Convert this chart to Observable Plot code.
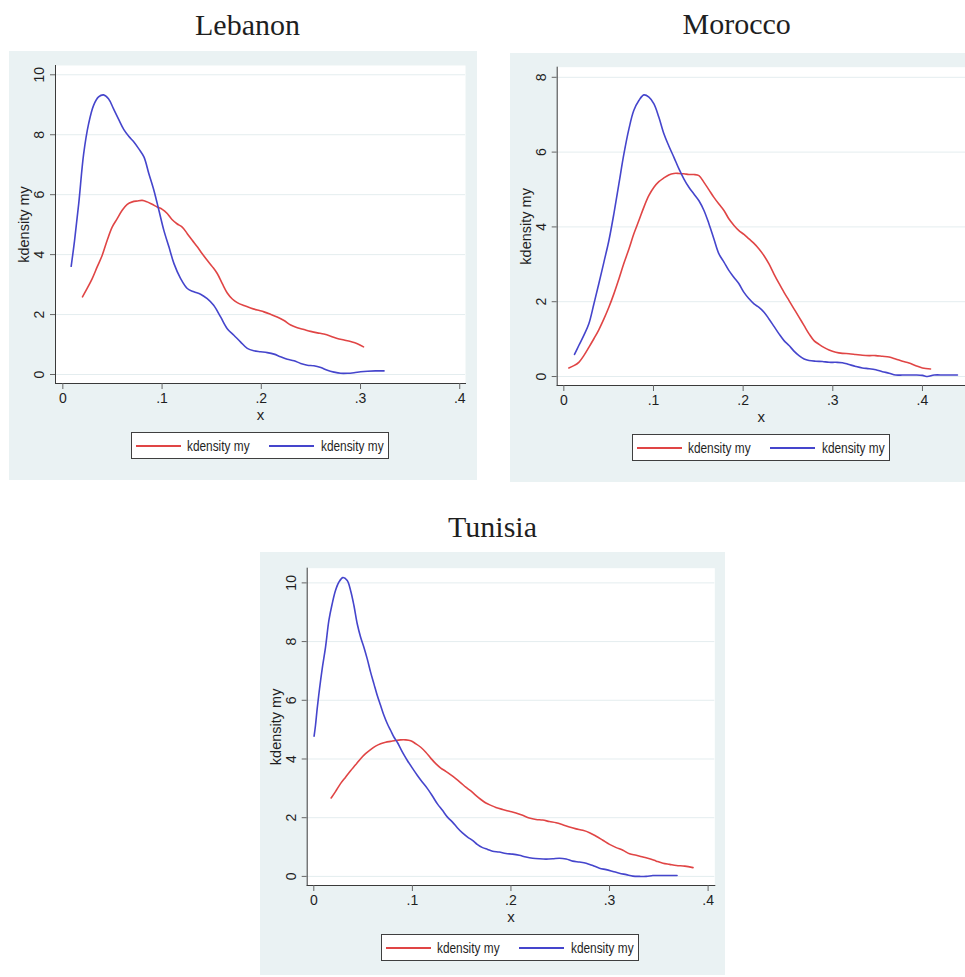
<!DOCTYPE html>
<html>
<head>
<meta charset="utf-8">
<script src="https://cdn.jsdelivr.net/npm/d3@7"></script>
<script src="https://cdn.jsdelivr.net/npm/@observablehq/plot@0.6"></script>
<style>
  body { margin: 0; background: #ffffff; }
  #root { position: relative; width: 965px; height: 977px; overflow: hidden; background: #ffffff; }
  .title { position: absolute; font-family: "Liberation Serif", "Times New Roman", serif; font-size: 30px; line-height: 30px; color: #1f1f1f; transform: translateX(-50%); white-space: nowrap; }
  .panel { position: absolute; background: #eaf2f3; }
  .panel svg { position: absolute; left: 0; top: 0; overflow: visible; }
  .legend { position: absolute; background: #ffffff; border: 1px solid #3f3f3f; box-sizing: border-box; width: 258px; height: 27px;
            font-family: "Liberation Sans", Arial, sans-serif; font-size: 15px; color: #1f1f1f; }
  .legend .sw { position: absolute; top: 12px; height: 1.6px; width: 45px; }
  .legend .lb { position: absolute; top: 3px; line-height: 19px; white-space: nowrap; transform: scaleX(0.79); transform-origin: 0 50%; }
</style>
</head>
<body>
<div id="root"></div>
<script>
// ---------------- data ----------------
const countries = ["Lebanon", "Morocco", "Tunisia"];
const seriesLabels = ["kdensity my", "kdensity my"];
const xTicks = [0, 0.1, 0.2, 0.3, 0.4];
const xTickLabels = ["0", ".1", ".2", ".3", ".4"];
const yTicksLebanon = [0, 2, 4, 6, 8, 10];
const yTicksMorocco = [0, 2, 4, 6, 8];
const yTicksTunisia = [0, 2, 4, 6, 8, 10];

const lebanonRed = [
  [0.0198,2.59],[0.0245,2.87],[0.0296,3.2],[0.0346,3.59],[0.0397,3.98],[0.0447,4.48],[0.0497,4.92],
  [0.0548,5.2],[0.0598,5.48],[0.0649,5.68],[0.07,5.76],[0.075,5.79],[0.08,5.81],[0.085,5.76],
  [0.09,5.68],[0.0951,5.59],[0.1002,5.51],[0.1052,5.37],[0.11,5.17],[0.115,5.03],[0.1203,4.92],
  [0.1254,4.7],[0.1304,4.48],[0.1355,4.26],[0.1405,4.03],[0.1455,3.81],[0.1506,3.6],[0.1556,3.37],
  [0.1607,3.03],[0.1657,2.72],[0.1708,2.52],[0.1758,2.4],[0.1825,2.3],[0.1892,2.22],[0.196,2.15],
  [0.2027,2.09],[0.2094,2.01],[0.216,1.92],[0.2229,1.8],[0.2296,1.65],[0.2363,1.56],[0.243,1.5],
  [0.2497,1.44],[0.2565,1.39],[0.263,1.35],[0.27,1.28],[0.2766,1.2],[0.2834,1.15],[0.29,1.1],
  [0.2968,1.03],[0.303,0.92]
];
const lebanonBlue = [
  [0.0084,3.61],[0.0118,4.47],[0.016,5.7],[0.021,7.37],[0.026,8.37],[0.031,8.98],[0.036,9.26],
  [0.041,9.33],[0.046,9.2],[0.051,8.87],[0.056,8.53],[0.0615,8.17],[0.0666,7.94],[0.0716,7.76],
  [0.0766,7.53],[0.0817,7.26],[0.0867,6.7],[0.0918,6.14],[0.0968,5.48],[0.1018,4.81],[0.1069,4.26],
  [0.112,3.7],[0.1187,3.2],[0.1254,2.87],[0.132,2.76],[0.1388,2.68],[0.1455,2.53],[0.152,2.31],
  [0.159,1.92],[0.1657,1.53],[0.1724,1.31],[0.179,1.09],[0.1859,0.87],[0.1926,0.79],[0.1993,0.76],
  [0.206,0.73],[0.2128,0.68],[0.2195,0.59],[0.2262,0.51],[0.233,0.46],[0.2397,0.37],[0.2464,0.31],
  [0.253,0.29],[0.26,0.23],[0.2666,0.14],[0.2733,0.08],[0.28,0.04],[0.2867,0.04],[0.2934,0.06],
  [0.30,0.09],[0.307,0.11],[0.315,0.12],[0.3237,0.12]
];
const moroccoRed = [
  [0.0056,0.23],[0.0112,0.29],[0.0167,0.38],[0.0223,0.56],[0.0279,0.78],[0.0335,1.01],[0.039,1.25],
  [0.0447,1.54],[0.0502,1.85],[0.0558,2.21],[0.0614,2.61],[0.067,3.03],[0.0726,3.41],[0.078,3.81],
  [0.0837,4.17],[0.0893,4.53],[0.0949,4.84],[0.1005,5.06],[0.106,5.21],[0.1116,5.31],[0.117,5.39],
  [0.1228,5.43],[0.1284,5.43],[0.134,5.42],[0.1395,5.4],[0.1451,5.4],[0.1507,5.37],[0.1563,5.19],
  [0.1619,4.99],[0.1674,4.79],[0.173,4.61],[0.1786,4.44],[0.1842,4.21],[0.1898,4.04],[0.1953,3.9],
  [0.2009,3.8],[0.2065,3.68],[0.2121,3.56],[0.2177,3.41],[0.2233,3.23],[0.2288,3.01],[0.2344,2.74],
  [0.24,2.49],[0.2456,2.25],[0.2512,2.03],[0.2567,1.81],[0.2623,1.59],[0.268,1.36],[0.2735,1.14],
  [0.279,0.96],[0.2847,0.86],[0.29,0.78],[0.2958,0.71],[0.3033,0.65],[0.3107,0.62],[0.3181,0.61],
  [0.3256,0.59],[0.333,0.57],[0.3405,0.56],[0.348,0.56],[0.3553,0.54],[0.3628,0.52],[0.37,0.47],
  [0.3777,0.41],[0.385,0.36],[0.3926,0.29],[0.4,0.23],[0.409,0.2]
];
const moroccoBlue = [
  [0.0119,0.59],[0.0167,0.83],[0.0223,1.1],[0.0279,1.41],[0.0335,1.94],[0.039,2.48],[0.0447,3.06],
  [0.0502,3.63],[0.0558,4.35],[0.0614,5.15],[0.067,5.95],[0.0726,6.62],[0.078,7.11],[0.0837,7.38],
  [0.0893,7.53],[0.0949,7.47],[0.1005,7.29],[0.106,6.93],[0.1116,6.49],[0.117,6.17],[0.1228,5.86],
  [0.1284,5.55],[0.134,5.28],[0.1395,5.06],[0.1451,4.88],[0.1507,4.7],[0.1563,4.44],[0.1619,4.08],
  [0.1674,3.68],[0.173,3.28],[0.1786,3.06],[0.1842,2.83],[0.1898,2.65],[0.1953,2.48],[0.2009,2.25],
  [0.2065,2.08],[0.2121,1.94],[0.2177,1.85],[0.2233,1.72],[0.2288,1.54],[0.2344,1.34],[0.24,1.14],
  [0.2456,0.96],[0.2512,0.83],[0.2567,0.68],[0.2623,0.56],[0.268,0.47],[0.2735,0.43],[0.281,0.41],
  [0.2884,0.4],[0.2958,0.38],[0.3033,0.38],[0.3107,0.37],[0.3181,0.32],[0.3256,0.27],[0.333,0.23],
  [0.3405,0.21],[0.348,0.18],[0.3553,0.13],[0.3628,0.09],[0.37,0.04],[0.3777,0.04],[0.385,0.04],
  [0.3926,0.04],[0.4,0.03],[0.4056,0.0],[0.413,0.04],[0.424,0.04],[0.439,0.04]
];
const tunisiaRed = [
  [0.0176,2.67],[0.022,2.89],[0.0271,3.16],[0.0322,3.38],[0.0373,3.6],[0.0424,3.8],[0.0475,4.01],
  [0.0525,4.18],[0.0576,4.32],[0.0627,4.44],[0.0678,4.52],[0.0729,4.57],[0.078,4.6],[0.083,4.63],
  [0.0881,4.65],[0.0932,4.65],[0.0983,4.62],[0.1034,4.52],[0.1085,4.4],[0.1136,4.23],[0.1186,4.03],
  [0.1237,3.84],[0.1288,3.69],[0.1339,3.58],[0.139,3.46],[0.144,3.33],[0.1491,3.19],[0.1542,3.04],
  [0.1593,2.91],[0.1644,2.76],[0.1695,2.62],[0.1746,2.5],[0.1797,2.42],[0.1847,2.35],[0.1915,2.28],
  [0.1983,2.22],[0.2051,2.16],[0.2119,2.08],[0.2186,1.99],[0.2254,1.94],[0.2322,1.92],[0.239,1.87],
  [0.2458,1.83],[0.2525,1.76],[0.2593,1.68],[0.2661,1.62],[0.2729,1.57],[0.2797,1.49],[0.2864,1.37],
  [0.2932,1.23],[0.3,1.09],[0.3068,0.98],[0.3136,0.89],[0.3203,0.77],[0.3271,0.72],[0.3339,0.66],
  [0.3407,0.6],[0.3475,0.52],[0.3542,0.45],[0.361,0.41],[0.3678,0.37],[0.3763,0.35],[0.3847,0.3]
];
const tunisiaBlue = [
  [0.0003,4.78],[0.0017,5.14],[0.0034,5.71],[0.0058,6.39],[0.0085,7.07],[0.0119,7.81],[0.0153,8.72],
  [0.0186,9.28],[0.022,9.74],[0.0254,10.02],[0.0295,10.18],[0.0339,10.08],[0.0373,9.74],[0.0407,9.23],
  [0.0441,8.6],[0.0475,8.15],[0.0508,7.81],[0.0542,7.41],[0.0576,6.96],[0.061,6.56],[0.0644,6.16],
  [0.0678,5.82],[0.0712,5.48],[0.0746,5.2],[0.078,4.97],[0.0814,4.74],[0.0847,4.57],[0.0881,4.35],
  [0.0915,4.14],[0.0949,3.95],[0.1,3.69],[0.1051,3.44],[0.1102,3.21],[0.1153,2.99],[0.1203,2.74],
  [0.1254,2.47],[0.1305,2.25],[0.1356,2.02],[0.1407,1.85],[0.1458,1.65],[0.1508,1.48],[0.156,1.34],
  [0.161,1.23],[0.1661,1.08],[0.1712,0.98],[0.1763,0.92],[0.1814,0.86],[0.1881,0.83],[0.1949,0.78],
  [0.2017,0.76],[0.2085,0.72],[0.2153,0.66],[0.222,0.62],[0.2288,0.6],[0.2356,0.59],[0.2424,0.6],
  [0.2492,0.62],[0.256,0.59],[0.2627,0.52],[0.2695,0.49],[0.2763,0.45],[0.283,0.37],[0.2898,0.28],
  [0.2966,0.23],[0.3034,0.17],[0.31,0.11],[0.317,0.06],[0.3237,0.01],[0.3305,0.0],[0.3373,0.0],
  [0.344,0.03],[0.3508,0.03],[0.3593,0.03],[0.3685,0.03]
];

// ---------------- styles / layout ----------------
const RED = "#e04545";
const BLUE = "#4545cc";
const GRID = "#e4edef";
const AXIS = "#3a3a3a";
const TEXT = "#1f1f1f";
const SANS = '"Liberation Sans", Arial, sans-serif';

const layouts = [
  { title: {cx: 247.5, top: 10}, box: {left: 9, top: 51, w: 468, h: 429},
    margin: {l: 46, r: 12, t: 14, b: 97}, xDomain: [-0.0074, 0.4058], yDomain: [-0.3, 10.31],
    legend: {left: 122, top: 381} },
  { title: {cx: 736.7, top: 9}, box: {left: 510, top: 53, w: 455, h: 429},
    margin: {l: 46.7, r: 0, t: 13.7, b: 97}, xDomain: [-0.0074, 0.448], yDomain: [-0.24, 8.27],
    legend: {left: 121.7, top: 381} },
  { title: {cx: 492.5, top: 512}, box: {left: 260, top: 552, w: 465, h: 423},
    margin: {l: 46.7, r: 10.7, t: 15.7, b: 90}, xDomain: [-0.0067, 0.4068], yDomain: [-0.31, 10.5],
    legend: {left: 121, top: 382} }
];

const panelData = [
  {red: lebanonRed, blue: lebanonBlue, yTicks: yTicksLebanon},
  {red: moroccoRed, blue: moroccoBlue, yTicks: yTicksMorocco},
  {red: tunisiaRed, blue: tunisiaBlue, yTicks: yTicksTunisia}
];

const root = document.getElementById("root");
const xFmt = d => xTickLabels[xTicks.findIndex(t => Math.abs(t - d) < 1e-9)];

countries.forEach((name, i) => {
  const L = layouts[i];
  const D = panelData[i];

  const title = document.createElement("div");
  title.className = "title";
  title.style.left = L.title.cx + "px";
  title.style.top = L.title.top + "px";
  title.textContent = name;
  root.appendChild(title);

  const panel = document.createElement("div");
  panel.className = "panel";
  panel.style.left = L.box.left + "px";
  panel.style.top = L.box.top + "px";
  panel.style.width = L.box.w + "px";
  panel.style.height = L.box.h + "px";
  root.appendChild(panel);

  const red = D.red.map(([x, y]) => ({x, y}));
  const blue = D.blue.map(([x, y]) => ({x, y}));

  const chart = Plot.plot({
    width: L.box.w,
    height: L.box.h,
    marginLeft: L.margin.l,
    marginRight: L.margin.r,
    marginTop: L.margin.t,
    marginBottom: L.margin.b,
    style: {background: "transparent", color: TEXT, fontFamily: SANS, overflow: "visible"},
    x: {domain: L.xDomain},
    y: {domain: L.yDomain},
    marks: [
      Plot.frame({fill: "#ffffff", stroke: null}),
      Plot.ruleY(D.yTicks, {stroke: GRID, strokeWidth: 1}),
      Plot.line(red, {x: "x", y: "y", stroke: RED, strokeWidth: 1.6, curve: "catmull-rom"}),
      Plot.line(blue, {x: "x", y: "y", stroke: BLUE, strokeWidth: 1.6, curve: "catmull-rom"}),
      Plot.frame({anchor: "left", stroke: AXIS, strokeWidth: 1}),
      Plot.frame({anchor: "bottom", stroke: AXIS, strokeWidth: 1}),
      Plot.axisX({ticks: xTicks, tickFormat: xFmt, tickSize: 6, tickPadding: 4, stroke: "#666",
                  fontSize: 14, fontFamily: SANS, fill: TEXT, label: null}),
      Plot.axisY({ticks: D.yTicks, tickSize: 5, tickFormat: () => "", stroke: "#666", label: null}),
      Plot.text(D.yTicks, {y: d => d, text: d => String(d), frameAnchor: "left", rotate: -90,
                           dx: -16, textAnchor: "middle", lineAnchor: "middle",
                           fontSize: 14, fontFamily: SANS, fill: TEXT}),
      Plot.text(["kdensity my"], {text: d => d, frameAnchor: "left", rotate: -90, dx: -31,
                                  textAnchor: "middle", lineAnchor: "middle",
                                  fontSize: 14.5, fontFamily: SANS, fill: TEXT}),
      Plot.text(["x"], {text: d => d, frameAnchor: "bottom", dy: 32, textAnchor: "middle",
                        lineAnchor: "middle", fontSize: 15, fontFamily: SANS, fill: TEXT})
    ]
  });
  panel.appendChild(chart);

  const lg = document.createElement("div");
  lg.className = "legend";
  lg.style.left = L.legend.left + "px";
  lg.style.top = L.legend.top + "px";
  const items = [
    {color: RED, swLeft: 4, lbLeft: 55, label: seriesLabels[0]},
    {color: BLUE, swLeft: 137, lbLeft: 189, label: seriesLabels[1]}
  ];
  items.forEach(it => {
    const sw = document.createElement("div");
    sw.className = "sw";
    sw.style.left = it.swLeft + "px";
    sw.style.background = it.color;
    lg.appendChild(sw);
    const lb = document.createElement("div");
    lb.className = "lb";
    lb.style.left = it.lbLeft + "px";
    lb.textContent = it.label;
    lg.appendChild(lb);
  });
  panel.appendChild(lg);
});
</script>
</body>
</html>
